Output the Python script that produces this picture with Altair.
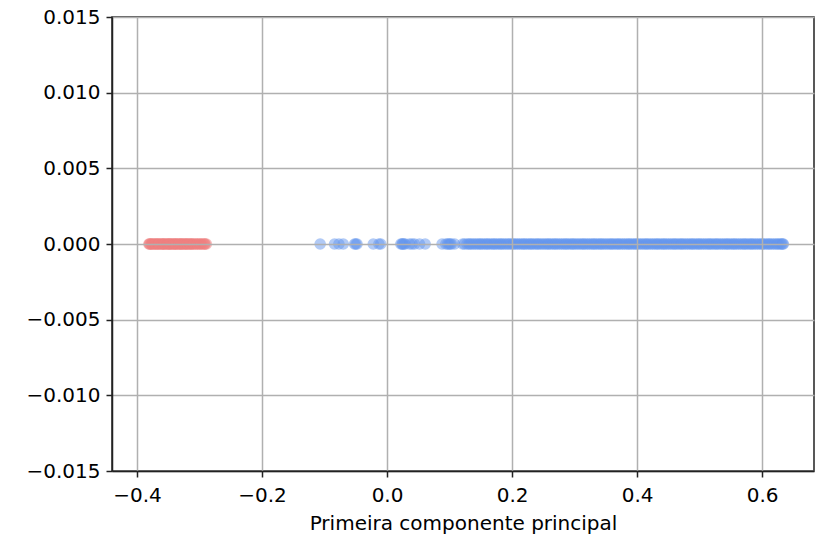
import altair as alt
import pandas as pd

red_x = [-0.381, -0.380, -0.379, -0.377, -0.376, -0.375, -0.372, -0.371, -0.370, -0.368,
         -0.366, -0.365, -0.364, -0.361, -0.360, -0.359, -0.357, -0.356, -0.355, -0.352,
         -0.351, -0.350, -0.348, -0.347, -0.346, -0.344, -0.342, -0.341, -0.339, -0.338,
         -0.337, -0.335, -0.333, -0.332, -0.330, -0.329, -0.328, -0.326, -0.324, -0.323,
         -0.321, -0.320, -0.319, -0.316, -0.315, -0.314, -0.312, -0.310, -0.309, -0.306,
         -0.304, -0.303, -0.300, -0.298, -0.297, -0.294, -0.292, -0.291, -0.289]

blue_x = [-0.107, -0.084, -0.077, -0.070, -0.052, -0.050, -0.048, -0.022, -0.013, -0.010,
          0.022, 0.024, 0.025, 0.027, 0.029, 0.036, 0.040, 0.044, 0.052, 0.061, 0.088,
          0.094, 0.097, 0.099, 0.101, 0.103, 0.108, 0.121, 0.124, 0.128, 0.131, 0.133,
          0.136, 0.139, 0.142, 0.145, 0.148, 0.150, 0.153, 0.156, 0.159, 0.161, 0.164,
          0.167, 0.170, 0.172, 0.175, 0.178, 0.181, 0.183, 0.186, 0.189, 0.192, 0.195,
          0.198, 0.201, 0.203, 0.206, 0.209, 0.212, 0.215, 0.218, 0.220, 0.223, 0.226,
          0.229, 0.231, 0.234, 0.237, 0.240, 0.242, 0.245, 0.248, 0.251, 0.254, 0.257,
          0.259, 0.262, 0.265, 0.268, 0.270, 0.273, 0.276, 0.279, 0.282, 0.285, 0.287,
          0.290, 0.293, 0.296, 0.298, 0.301, 0.304, 0.307, 0.310, 0.313, 0.315, 0.318,
          0.321, 0.324, 0.327, 0.330, 0.332, 0.335, 0.338, 0.341, 0.343, 0.346, 0.349,
          0.352, 0.355, 0.358, 0.360, 0.363, 0.366, 0.369, 0.371, 0.374, 0.377, 0.380,
          0.383, 0.386, 0.388, 0.391, 0.394, 0.397, 0.399, 0.402, 0.405, 0.408, 0.411,
          0.414, 0.416, 0.419, 0.422, 0.425, 0.428, 0.431, 0.433, 0.436, 0.439, 0.442,
          0.444, 0.447, 0.450, 0.453, 0.456, 0.459, 0.461, 0.464, 0.467, 0.470, 0.472,
          0.475, 0.478, 0.481, 0.484, 0.487, 0.489, 0.492, 0.495, 0.498, 0.500, 0.503,
          0.506, 0.509, 0.512, 0.515, 0.517, 0.520, 0.523, 0.526, 0.528, 0.531, 0.534,
          0.537, 0.540, 0.543, 0.545, 0.548, 0.551, 0.554, 0.556, 0.559, 0.562, 0.565,
          0.568, 0.571, 0.573, 0.576, 0.579, 0.582, 0.584, 0.587, 0.590, 0.593, 0.596,
          0.599, 0.601, 0.604, 0.607, 0.610, 0.612, 0.615, 0.618, 0.621, 0.624, 0.626,
          0.629, 0.631, 0.633, 0.634]

groups = ["a", "b"]
colors = ["#f08080", "#6495ed"]
x_ticks = [-0.4, -0.2, 0.0, 0.2, 0.4, 0.6]
y_ticks = [-0.015, -0.010, -0.005, 0.0, 0.005, 0.010, 0.015]
x_title = "Primeira componente principal"

df = pd.DataFrame({
    "x": red_x + blue_x,
    "y": [0.0] * (len(red_x) + len(blue_x)),
    "g": ["a"] * len(red_x) + ["b"] * len(blue_x),
})

FONT = "DejaVu Sans"

chart = alt.Chart(df).mark_circle(size=135, opacity=0.5).encode(
    x=alt.X("x:Q",
            scale=alt.Scale(domain=[-0.44, 0.683], nice=False, zero=False),
            axis=alt.Axis(values=x_ticks, format=".1f", title=x_title,
                          grid=True, zindex=1, labelPadding=8, titlePadding=8)),
    y=alt.Y("y:Q",
            scale=alt.Scale(domain=[-0.015, 0.015], nice=False, zero=False),
            axis=alt.Axis(values=y_ticks, format=".3f", title=None,
                          grid=True, zindex=1, labelPadding=6)),
    color=alt.Color("g:N", scale=alt.Scale(domain=groups, range=colors), legend=None),
).properties(
    width=702,
    height=454,
    autosize=alt.AutoSizeParams(type="none"),
    padding={"left": 112, "top": 17, "right": 4, "bottom": 70},
).configure_axis(
    labelFont=FONT,
    labelFontSize=20,
    labelColor="#000000",
    titleFont=FONT,
    titleFontSize=20,
    titleFontWeight="normal",
    titleColor="#000000",
    gridColor="#b0b0b0",
    gridWidth=1.5,
    domainColor="#222222",
    domainWidth=1.5,
    tickColor="#222222",
    tickSize=6,
    tickWidth=1.5,
).configure_view(
    stroke="#222222",
    strokeWidth=1.5,
)

chart.save("out.html", embed_options={"renderer": "svg", "actions": False})
